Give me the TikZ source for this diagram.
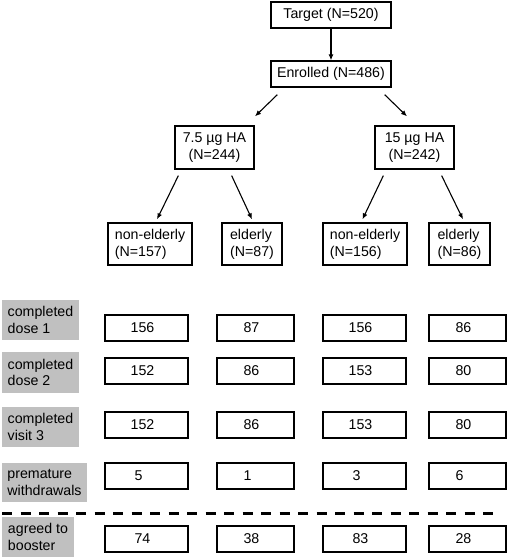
\documentclass[tikz,border=0pt]{standalone}
\usepackage{fontspec}
\setmainfont{Liberation Sans}
\usepackage{xcolor}
\usetikzlibrary{arrows.meta}
\definecolor{labgrey}{RGB}{192,192,192}
\newcommand{\val}[1]{#1\hspace*{8pt}}
\tikzset{
  box/.style={draw, line width=1.3pt, inner sep=0pt, minimum height=26pt},
  twoline/.style={box, minimum height=42pt},
  lab/.style={fill=labgrey, inner sep=0pt, align=left, minimum width=77pt, minimum height=40pt},
  arr/.style={-{Latex[length=6pt,width=5pt]}, line width=1.1pt}
}

\begin{document}
\begin{tikzpicture}[x=1pt,y=-1pt,every node/.style={font=\fontsize{14.2}{16.8}\selectfont}]
   \useasboundingbox (0,0) rectangle (508,558);
   % tree
   \node[box,minimum width=120pt] (tgt) at (331,15) {Target (N=520)};
   \node[box,minimum width=120pt] (enr) at (331,74) {Enrolled (N=486)};
   \node[twoline,minimum width=79pt,minimum height=43pt,align=center] (ha1) at (214.5,147.5) {7.5 µg HA\\(N=244)};
   \node[twoline,minimum width=79pt,minimum height=43pt,align=center] (ha2) at (414.5,147.5) {15 µg HA\\(N=242)};
   \node[twoline,minimum width=84pt,align=left] (ne1) at (150,244) {non-elderly\\(N=157)};
   \node[twoline,minimum width=60pt,align=left] (el1) at (252,244) {elderly\\(N=87)};
   \node[twoline,minimum width=84pt,align=left] (ne2) at (365,244) {non-elderly\\(N=156)};
   \node[twoline,minimum width=61pt,align=left] (el2) at (459.5,244) {elderly\\(N=86)};
   \draw[arr] (tgt) -- (enr);
   \draw[arr] ([xshift=7pt,yshift=-7pt]enr.south west) -- ([xshift=40.5pt,yshift=9pt]ha1.north);
   \draw[arr] ([xshift=-7pt,yshift=-7pt]enr.south east) -- ([xshift=-7.5pt,yshift=9pt]ha2.north);
   \draw[arr] ([xshift=4pt,yshift=-6pt]ha1.south west) -- ([xshift=7pt,yshift=3pt]ne1.north);
   \draw[arr] ([xshift=-23pt,yshift=-6pt]ha1.south east) -- ([yshift=3pt]el1.north);
   \draw[arr] ([xshift=9pt,yshift=-6pt]ha2.south west) -- ([xshift=-2.5pt,yshift=3pt]ne2.north);
   \draw[arr] ([xshift=-13pt,yshift=-6pt]ha2.south east) -- ([xshift=3.5pt,yshift=3pt]el2.north);
   % row labels
   \node[lab] (dose1) at (40.5,320) {completed\\dose 1};
   \node[lab,minimum height=41pt] (dose2) at (40.5,372.5) {completed\\dose 2};
   \node[lab] (visit3) at (40.5,427) {completed\\visit 3};
   \node[lab,minimum width=85pt,minimum height=39pt] (withdr) at (44.5,482.5) {premature\\withdrawals};
   \node[lab,minimum width=72pt] (boost) at (38,537) {agreed to\\booster};
   % counts
   \node[box,minimum width=83pt] (d1a) at (146.5,328) {\val{156}};
   \node[box,minimum width=77pt] (d1b) at (255.5,328) {\val{87}};
   \node[box,minimum width=83pt] (d1c) at (364.5,328) {\val{156}};
   \node[box,minimum width=77pt] (d1d) at (467.5,328) {\val{86}};
   \node[box,minimum width=83pt] (d2a) at (146.5,371) {\val{152}};
   \node[box,minimum width=77pt] (d2b) at (255.5,371) {\val{86}};
   \node[box,minimum width=83pt] (d2c) at (364.5,371) {\val{153}};
   \node[box,minimum width=77pt] (d2d) at (467.5,371) {\val{80}};
   \node[box,minimum width=83pt] (v3a) at (146.5,425) {\val{152}};
   \node[box,minimum width=77pt] (v3b) at (255.5,425) {\val{86}};
   \node[box,minimum width=83pt] (v3c) at (364.5,425) {\val{153}};
   \node[box,minimum width=77pt] (v3d) at (467.5,425) {\val{80}};
   \node[box,minimum width=83pt] (wda) at (146.5,476) {\val{\val{5}}};
   \node[box,minimum width=77pt] (wdb) at (255.5,476) {\val{\val{1}}};
   \node[box,minimum width=83pt] (wdc) at (364.5,476) {\val{\val{3}}};
   \node[box,minimum width=77pt] (wdd) at (467.5,476) {\val{\val{6}}};
   \draw[line width=3pt,dash pattern=on 10pt off 8.5pt] (2,513) -- (497,513);
   \node[box,minimum width=83pt] (bsa) at (146.5,539) {\val{74}};
   \node[box,minimum width=77pt] (bsb) at (255.5,539) {\val{38}};
   \node[box,minimum width=83pt] (bsc) at (364.5,539) {\val{83}};
   \node[box,minimum width=77pt] (bsd) at (467.5,539) {\val{28}};
\end{tikzpicture}
\end{document}
